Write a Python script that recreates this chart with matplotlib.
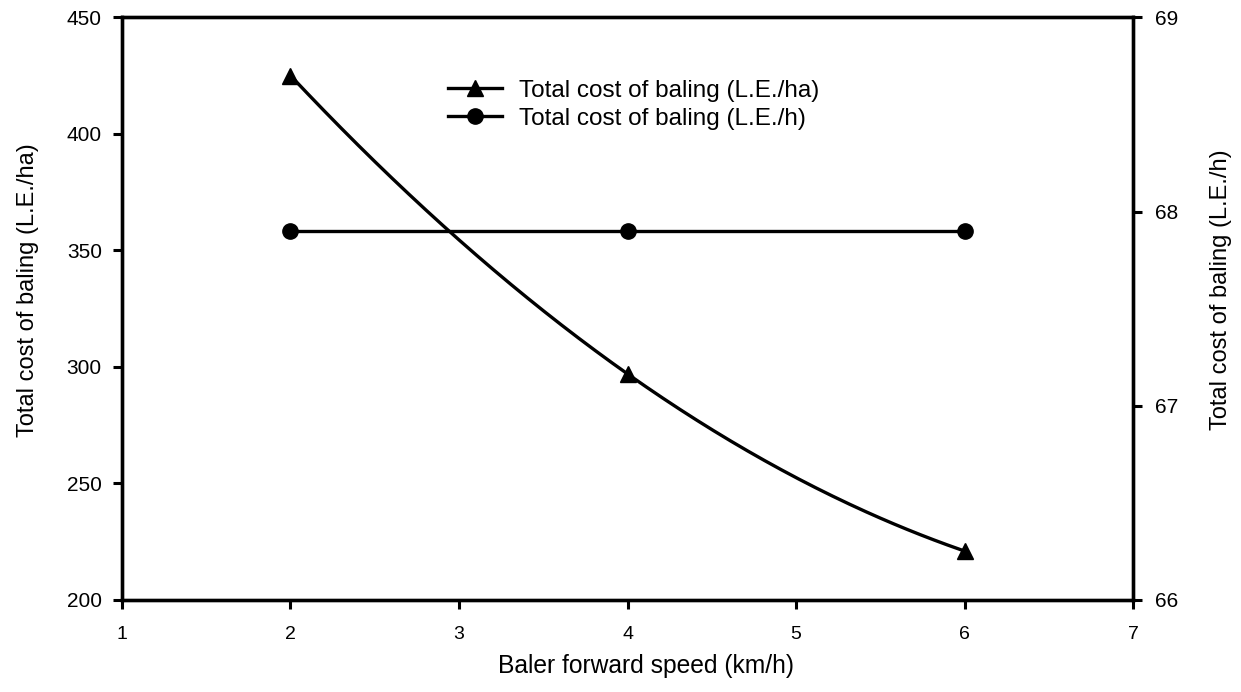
import numpy as np
import matplotlib
matplotlib.use("Agg")
import matplotlib.pyplot as plt
from matplotlib.lines import Line2D

plt.rcParams['font.family'] = ['Liberation Sans', 'DejaVu Sans']

# data
speed = [2, 4, 6]                      # km/h
cost_per_ha = [425, 297, 221]          # L.E./ha
cost_per_h = [67.9, 67.9, 67.9]        # L.E./h

fig = plt.figure(figsize=(12.41, 6.92), dpi=100)
ax = fig.add_axes([0.0983, 0.133, 0.8147, 0.842])
ax2 = ax.twinx()

# smooth curve through the three measured points (quadratic), markers on the points
coef = np.polyfit(speed, cost_per_ha, 2)
xs = np.linspace(speed[0], speed[-1], 200)
ax.plot(xs, np.polyval(coef, xs), color='black', lw=2.4, zorder=3)
ax.plot(speed, cost_per_ha, ls='none', marker='^', ms=12, color='black', zorder=4)

ax2.plot(speed, cost_per_h, color='black', lw=2.4, marker='o', ms=11, zorder=4)

ax.set_xlim(1, 7)
ax.set_ylim(200, 450)
ax2.set_ylim(66, 69)
ax.set_xticks(range(1, 8))
ax.set_yticks(range(200, 451, 50))
ax2.set_yticks([66, 67, 68, 69])

for a in (ax, ax2):
    for s in a.spines.values():
        s.set_linewidth(2.4)
    a.tick_params(direction='out', length=6.5, width=2.2)
ax.tick_params(axis='y', labelsize=15, pad=8)
ax.tick_params(axis='x', labelsize=14, pad=12)
ax2.tick_params(axis='y', labelsize=15, pad=9)

ax.set_xlabel('Baler forward speed (km/h)', fontsize=17.7)
ax.set_ylabel('Total cost of baling (L.E./ha)', fontsize=17)
ax2.set_ylabel('Total cost of baling (L.E./h)', fontsize=17)
ax.xaxis.set_label_coords(0.518, -0.093)
ax.yaxis.set_label_coords(-0.082, 0.532)
ax2.yaxis.set_label_coords(1.076, 0.532)

handles = [
    Line2D([], [], color='black', lw=2.4, marker='^', ms=11),
    Line2D([], [], color='black', lw=2.4, marker='o', ms=11),
]
ax.legend(handles, ['Total cost of baling (L.E./ha)', 'Total cost of baling (L.E./h)'],
          loc='center left', bbox_to_anchor=(0.3225, 0.85), frameon=False,
          fontsize=17.5, handlelength=2.2, handletextpad=0.7,
          labelspacing=0.25, borderaxespad=0, borderpad=0)

fig.savefig('out.png', dpi=100)
